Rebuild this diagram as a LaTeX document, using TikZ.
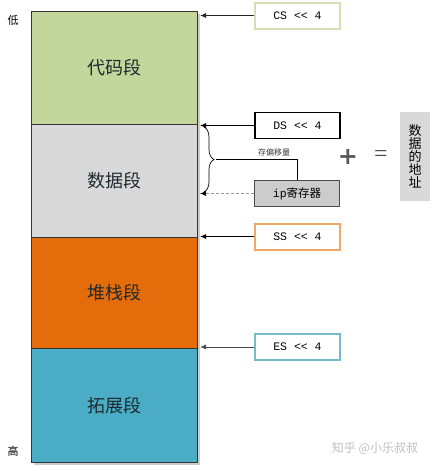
\documentclass[tikz,border=0pt]{standalone}
\usepackage{fontspec}
\setmainfont{Liberation Serif}
\newfontfamily\cjk{Noto Sans CJK SC}
\newfontfamily\monofnt{Liberation Mono}
\newfontfamily\plusfnt{DejaVu Sans}
\usetikzlibrary{arrows.meta,decorations.pathreplacing}
\definecolor{segGreen}{HTML}{C3D69B}
\definecolor{segGrey}{HTML}{D9D9D9}
\definecolor{segOrange}{HTML}{E46C0A}
\definecolor{segBlue}{HTML}{4BACC6}
\definecolor{bdGreen}{HTML}{D2E0B8}
\definecolor{bdOrange}{HTML}{F0A868}
\definecolor{bdBlue}{HTML}{72BCCB}
\definecolor{segText}{HTML}{1F2A30}
\tikzset{
  seg/.style={draw=black!80, line width=1.2pt, minimum width=166pt, inner sep=0pt, anchor=north west,
    font=\cjk\fontsize{18}{20}\selectfont, text=segText},
  regbox/.style={draw, fill=white, line width=1.5pt, minimum width=85pt, minimum height=26pt, inner sep=0pt,
    font=\monofnt\fontsize{11.5}{13}\selectfont},
  ptr/.style={-{Latex[length=6pt,width=5pt]}, line width=0.9pt},
  side/.style={font=\cjk\fontsize{11}{13}\selectfont}
}
\begin{document}
\begin{tikzpicture}[x=1pt,y=-1pt]
\useasboundingbox (0,0) rectangle (431,471);
% shadow of column
\fill[black!20] (34,14) rectangle (200,465);
\node[seg, fill=segGreen, minimum height=113pt] (code) at (31,11) {代码段};
\node[seg, fill=segGrey, minimum height=113pt] (data) at (31,124) {数据段};
\node[seg, fill=segOrange, minimum height=111pt] (stack) at (31,237) {堆栈段};
\node[seg, fill=segBlue, minimum height=114pt] (extra) at (31,348) {拓展段};
\node[side] (low) at (13,20) {低};
\node[side] (high) at (13,451) {高};
% register boxes
\node[regbox, draw=bdGreen, line width=2pt] (cs) at (297.5,15.5) {CS << 4};
\node[regbox, draw=black] (ds) at (297.5,125.5) {DS << 4};
\node[regbox, draw=bdOrange, line width=2pt] (ss) at (297.5,236.5) {SS << 4};
\node[regbox, draw=bdBlue] (es) at (297.5,347) {ES << 4};
\node[regbox, draw=black!70, fill=black!20, line width=1pt, font=\fontsize{11.5}{13}\selectfont] (ip) at (297,193.5) {{\monofnt ip}{\cjk 寄存器}};
% target coordinates on column edge
\coordinate (csT) at (200,15.5);
\coordinate (dsT) at (200,125.5);
\coordinate (ipT) at (200,193.5);
\coordinate (ssT) at (200,236.5);
\coordinate (esT) at (200,347);
\draw[ptr, black!85] (cs.west) -- (csT);
\draw[ptr] (ds.west) -- (dsT);
\draw[ptr, black!40, densely dashed, line width=0.6pt, -{Latex[length=6pt,width=5pt,black]}] (ip.west) -- (ipT);
\draw[ptr] (ss.west) -- (ssT);
\draw[ptr, black!70] (es.west) -- (esT);
% brace
\draw[decorate, decoration={brace, amplitude=10pt}, line width=0.7pt] (204,127) -- (204,192);
\coordinate (braceTip) at (216,159.5);
\coordinate (bend) at (297,159.5);
\draw[line width=0.7pt] (braceTip) -- (bend) -- (ip.north);
\node[font=\cjk\fontsize{8}{9}\selectfont, text=black!80] (offs) at (274,152) {存偏移量};
% plus and equals
\node[font=\plusfnt\bfseries\fontsize{24}{24}\selectfont, text=black!65] (plus) at (348,157) {+};
\node[font=\fontsize{24}{24}\selectfont, text=black!70] (eq) at (381,156) {=};
\node[fill=segGrey, minimum width=30pt, minimum height=89pt, inner sep=0pt, align=center,
  font=\cjk\fontsize{13}{13}\selectfont] (addr) at (415,156) {数\\据\\的\\地\\址};
% watermark
\node[font=\cjk\fontsize{12}{14}\selectfont, text=black!25] (wm) at (375,448) {知乎 @小乐叔叔};
\end{tikzpicture}
\end{document}
